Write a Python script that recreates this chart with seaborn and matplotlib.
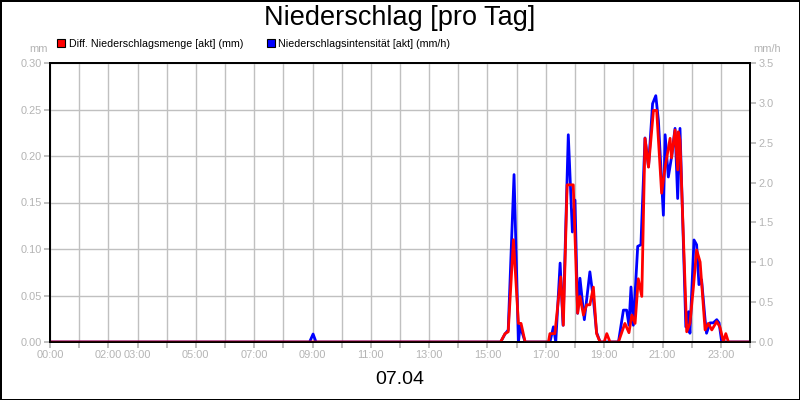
import numpy as np
import pandas as pd
import matplotlib
matplotlib.use("Agg")
import matplotlib.pyplot as plt
from matplotlib.patches import Patch
import seaborn as sns

# %% data
# time in hours of the day
red_time = [0.0, 15.45, 15.60, 15.71, 15.89, 16.06, 16.15, 16.29,
            17.09, 17.14, 17.31, 17.51, 17.60, 17.73, 17.94, 18.09, 18.17, 18.29,
            18.40, 18.51, 18.63, 18.74, 18.86, 19.00, 19.09, 19.20, 19.49,
            19.71, 19.85, 19.95, 20.06, 20.17, 20.29, 20.40, 20.52, 20.69, 20.80,
            20.97, 21.09, 21.26, 21.31, 21.43, 21.52, 21.54, 21.60, 21.83, 21.94,
            22.06, 22.17, 22.29, 22.46, 22.57, 22.69, 22.86, 22.97, 23.09, 23.17,
            23.26, 24.0]
red_mm = [0.0, 0.0, 0.009, 0.011, 0.110, 0.020, 0.020, 0.0,
          0.0, 0.009, 0.009, 0.070, 0.018, 0.169, 0.169, 0.031, 0.049, 0.029,
          0.040, 0.040, 0.059, 0.009, 0.0, 0.0, 0.009, 0.0, 0.0,
          0.020, 0.010, 0.029, 0.020, 0.068, 0.049, 0.219, 0.188, 0.249, 0.249,
          0.160, 0.188, 0.219, 0.198, 0.228, 0.185, 0.226, 0.217, 0.011, 0.020,
          0.059, 0.099, 0.086, 0.013, 0.020, 0.013, 0.022, 0.016, 0.0, 0.009,
          0.0, 0.0]

blue_time = [0.0, 8.90, 9.02, 9.12,
             15.45, 15.60, 15.71, 15.91, 16.06, 16.12, 16.29,
             17.14, 17.26, 17.34, 17.49, 17.59, 17.77, 17.91, 18.00, 18.09, 18.17,
             18.32, 18.51, 18.63, 18.74, 18.86, 19.49,
             19.66, 19.77, 19.85, 19.92, 20.00, 20.15, 20.26, 20.40, 20.52, 20.66,
             20.77, 20.86, 21.03, 21.09, 21.20, 21.31, 21.43, 21.52, 21.60, 21.80,
             21.89, 21.94, 22.08, 22.17, 22.25, 22.34, 22.46, 22.51, 22.63, 22.74,
             22.86, 22.94, 23.03, 24.0]
blue_mmh = [0.0, 0.0, 0.10, 0.0,
            0.0, 0.10, 0.15, 2.10, 0.0, 0.20, 0.0,
            0.0, 0.19, 0.0, 0.99, 0.21, 2.60, 1.38, 1.78, 0.36, 0.80,
            0.28, 0.88, 0.54, 0.12, 0.0, 0.0,
            0.40, 0.40, 0.21, 0.69, 0.21, 1.20, 1.22, 2.56, 2.20, 2.99,
            3.09, 2.78, 1.59, 2.60, 2.07, 2.32, 2.68, 1.80, 2.68, 0.19,
            0.38, 0.11, 1.28, 1.22, 0.72, 0.78, 0.28, 0.11, 0.24, 0.24,
            0.28, 0.24, 0.0, 0.0]

hour_ticks = list(range(0, 25))
hour_labels = ["00:00", "", "02:00", "03:00", "", "05:00", "", "07:00", "", "09:00", "",
               "11:00", "", "13:00", "", "15:00", "", "17:00", "", "19:00", "",
               "21:00", "", "23:00", ""]
left_ticks = [0.0, 0.05, 0.10, 0.15, 0.20, 0.25, 0.30]
right_ticks = [0.0, 0.5, 1.0, 1.5, 2.0, 2.5, 3.0, 3.5]

red_name = "Diff. Niederschlagsmenge [akt] (mm)"
blue_name = "Niederschlagsintensität [akt] (mm/h)"

# %% style
sns.set_style("white")
plt.rcParams['font.family'] = ['Liberation Sans', 'DejaVu Sans']
plt.rcParams['text.color'] = 'black'
grey = '#b4b4b4'
gridc = '#c0c0c0'

fig = plt.figure(figsize=(8, 4), dpi=100, edgecolor='black', linewidth=2)
ax = fig.add_axes([50/800, 1-342/400, 700/800, 279/400])
ax_blue = ax.twinx()
ax_red = ax.twinx()

# grid + left axis
ax.set_xlim(0, 24)
ax.set_ylim(0, 0.30)
ax.set_xticks(hour_ticks)
ax.set_xticklabels(hour_labels)
ax.set_yticks(left_ticks)
ax.set_yticklabels([f"{v:.2f}" for v in left_ticks])
ax.grid(True, color=gridc, linewidth=1)
ax.tick_params(axis='both', colors=grey, labelcolor=grey, labelsize=7.9,
               length=4, width=1.2, direction='out', left=True, bottom=True, pad=2)

# blue series on the right axis
sns.lineplot(x=blue_time, y=blue_mmh, ax=ax_blue, color='#0000ff', linewidth=2.0)
ax_blue.set_ylim(0, 3.5)
ax_blue.set_yticks(right_ticks)
ax_blue.set_yticklabels([f"{v:.1f}" for v in right_ticks])
ax_blue.tick_params(axis='y', colors=grey, labelcolor=grey, labelsize=7.9,
                    length=4, width=1.2, direction='out', right=True, pad=2)

# red series on top
sns.lineplot(x=red_time, y=red_mm, ax=ax_red, color='#ff0000', linewidth=2.0)
ax_red.set_ylim(0, 0.30)
ax_red.set_yticks([])
ax_red.set_xlim(0, 24)

for a in (ax, ax_blue, ax_red):
    a.set_xlabel("")
    a.set_ylabel("")
    for s in a.spines.values():
        s.set_color('black')
        s.set_linewidth(1.2)

# texts
fig.text(0.5, 1-18/400, "Niederschlag [pro Tag]", ha='center', va='center', fontsize=19.5,
         color='black')
fig.text(400/800, 1-379/400, "07.04", ha='center', va='center', fontsize=14, color='black')
fig.text(48/800, 1-49/400, "mm", ha='right', va='center', fontsize=7.9, color=grey)
fig.text(753/800, 1-49/400, "mm/h", ha='left', va='center', fontsize=7.9, color=grey)

handles = [Patch(facecolor='#ff0000', edgecolor='black', linewidth=0.8),
           Patch(facecolor='#0000ff', edgecolor='black', linewidth=0.8)]
leg = fig.legend(handles, [red_name, blue_name], loc='center left',
                 bbox_to_anchor=(57/800, 1-44/400), ncol=2, frameon=False, fontsize=7.7,
                 handlelength=0.75, handleheight=0.75, handletextpad=0.35, columnspacing=2.2,
                 borderpad=0, borderaxespad=0)
for t in leg.get_texts():
    t.set_color('black')

fig.savefig("out.png", dpi=100, edgecolor=fig.get_edgecolor())
